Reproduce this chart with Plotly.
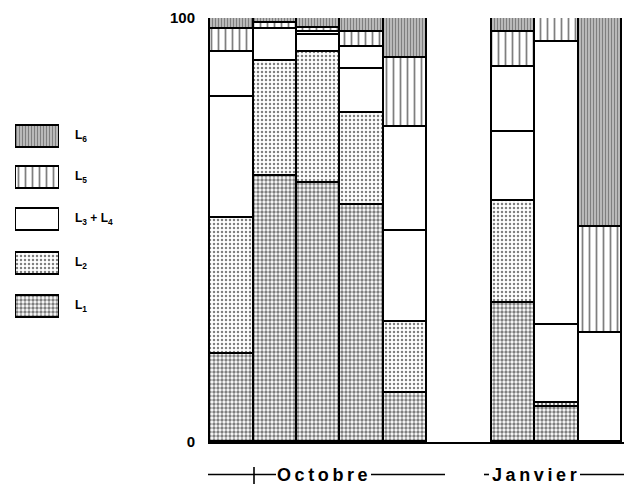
import plotly.graph_objects as go

# ---- data (percent of total, per bar) ----
months = ["Octobre", "Janvier"]
bars_per_month = [5, 3]
L1 = [20.8, 62.7, 61.2, 55.9, 11.5, 32.7, 8.3, 0.0]
L2 = [32.0, 27.2, 30.7, 21.6, 16.9, 24.1, 1.0, 0.0]
L3 = [28.5, 7.4, 4.1, 10.4, 21.4, 16.2, 18.3, 25.6]
L4 = [10.7, 0.0, 0.6, 5.3, 24.6, 15.5, 66.8, 0.0]
L5 = [5.4, 1.5, 1.0, 3.4, 16.1, 8.3, 5.6, 25.0]
L6 = [2.6, 1.2, 2.4, 3.4, 9.5, 3.2, 0.0, 49.4]
y_tick_vals = [0, 100]
y_tick_text = ["0", "100"]
legend_names = ["L<sub>6</sub>", "L<sub>5</sub>", "L<sub>3</sub> + L<sub>4</sub>", "L<sub>2</sub>", "L<sub>1</sub>"]

W, H = 624, 485
T, B = 18, 43
X0, X1 = 210, 622
FONT = "Liberation Sans, Arial, sans-serif"

# x positions: contiguous bars within a month, 1.5-bar gap between months
gap = 1.5
xs = []
start = 0.0
for n in bars_per_month:
    xs += [start + i for i in range(n)]
    start += n + gap

styles = {
    "L1": dict(shape=".", fgcolor="black", bgcolor="white", size=4, solidity=0.55),
    "L2": dict(shape=".", fgcolor="black", bgcolor="white", size=4, solidity=0.3),
    "L3": dict(shape="", bgcolor="white"),
    "L4": dict(shape="", bgcolor="white"),
    "L5": dict(shape="|", fgcolor="black", bgcolor="white", size=7, solidity=0.25),
    "L6": dict(shape="|", fgcolor="black", bgcolor="white", size=3, solidity=0.7),
}

fig = go.Figure()
for name, vals in [("L1", L1), ("L2", L2), ("L3", L3), ("L4", L4), ("L5", L5), ("L6", L6)]:
    fig.add_trace(go.Bar(
        x=xs, y=vals, width=1.0, name=name, showlegend=False,
        marker=dict(color="white", pattern=styles[name], line=dict(color="black", width=1.6)),
        xaxis="x", yaxis="y",
    ))

# custom legend boxes (left side)
leg_keys = ["L6", "L5", "L3", "L2", "L1"]
leg_top = [125, 166, 208, 252, 295]
leg_h = 22
for key, top, lbl in zip(leg_keys, leg_top, legend_names):
    fig.add_trace(go.Bar(
        x=[0.5], y=[leg_h], base=[top], width=[1.0], showlegend=False,
        marker=dict(color="white", pattern=styles[key], line=dict(color="black", width=2)),
        xaxis="x2", yaxis="y2", hoverinfo="skip",
    ))
    fig.add_annotation(x=73 / W, xref="paper", y=top + leg_h / 2, yref="y2",
                       text="<b>" + lbl + "</b>", showarrow=False, xanchor="left",
                       font=dict(family=FONT, size=12, color="black"))

fig.update_layout(
    width=W, height=H,
    margin=dict(l=0, r=0, t=T, b=B),
    paper_bgcolor="white", plot_bgcolor="white",
    barmode="stack", bargap=0,
    xaxis=dict(domain=[(X0 - 2) / W, (X1 + 2) / W], range=[-0.55, xs[-1] + 0.55], showticklabels=False,
               showgrid=False, zeroline=False, showline=True, linecolor="black", linewidth=1.5,
               ticks=""),
    yaxis=dict(range=[0, 100], tickvals=y_tick_vals, ticktext=["<b>%s</b>" % t for t in y_tick_text],
               showgrid=False, zeroline=False, showline=False, ticks="", ticklabelstandoff=12,
               tickfont=dict(family=FONT, size=15, color="black")),
    xaxis2=dict(domain=[15 / W, 59 / W], range=[0, 1], visible=False, anchor="y2"),
    yaxis2=dict(domain=[0, 1], range=[H - B, T], visible=False, anchor="x2"),
    showlegend=False,
)

# month labels with rules under the axis
def py(p):  # pixel y -> paper y
    return (H - B - p) / (H - T - B)

def spaced(s):
    return "\u2009".join(s)

label_font = dict(family=FONT, size=18, color="black")
fig.add_annotation(x=322.5 / W, xref="paper", y=py(475), yref="paper", showarrow=False,
                   text="<b>" + spaced(months[0]) + "</b>", font=label_font,
                   xanchor="center", yanchor="middle")
fig.add_annotation(x=534 / W, xref="paper", y=py(475), yref="paper", showarrow=False,
                   text="<b>" + spaced(months[1]) + "</b>", font=label_font,
                   xanchor="center", yanchor="middle")

rules = [(208, 276), (371, 445), (484, 489), (580, 624)]
for a, b in rules:
    fig.add_shape(type="line", xref="paper", yref="paper", x0=a / W, x1=b / W, y0=py(474.5), y1=py(474.5),
                  line=dict(color="black", width=1.6))
fig.add_shape(type="line", xref="paper", yref="paper", x0=254 / W, x1=254 / W, y0=py(467), y1=py(484),
              line=dict(color="black", width=1.6))

fig.write_html("out.html", config={"displayModeBar": False},
               post_script="document.body.style.margin='0';document.body.style.overflow='hidden';")
